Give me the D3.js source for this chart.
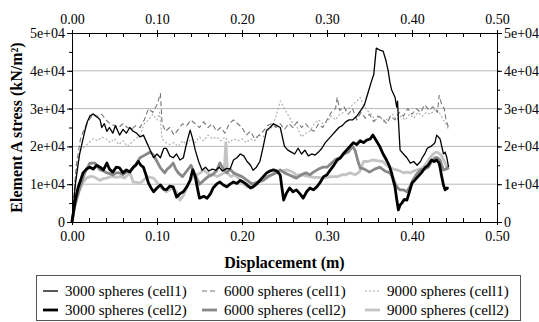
<!DOCTYPE html>
<html>
<head>
<meta charset="utf-8">
<script src="https://cdn.jsdelivr.net/npm/d3@7"></script>
<style>
  html, body { margin: 0; padding: 0; background: #fff; }
  svg { display: block; }
  svg text { font-family: "Liberation Serif", "Times New Roman", Times, serif !important; fill: #000; }
</style>
</head>
<body>
<svg id="chart" width="539" height="322"></svg>
<script>
// ---------- DATA ----------
const xTickValues = [0, 0.1, 0.2, 0.3, 0.4, 0.5];
const xTickLabels = ["0.00", "0.10", "0.20", "0.30", "0.40", "0.50"];
const yTickValues = [0, 10000, 20000, 30000, 40000, 50000];
const yTickLabels = ["0", "1e+04", "2e+04", "3e+04", "4e+04", "5e+04"];
const seriesNames = ["3000 spheres (cell1)", "6000 spheres (cell1)", "9000 spheres (cell1)",
                     "3000 spheres (cell2)", "6000 spheres (cell2)", "9000 spheres (cell2)"];

// [displacement (m), stress (kN/m2 / 1000)]
const s3000cell1 = [
  [0,0],[0.002,5],[0.004,10],[0.007,15],[0.009,18],[0.012,21],[0.015,24],[0.018,26.5],[0.021,28],[0.025,28.6],
  [0.028,28],[0.031,27.5],[0.033,27],[0.035,25],[0.038,26],[0.041,24],[0.044,25],[0.048,23.5],[0.051,25.5],[0.054,24],
  [0.056,23],[0.06,24.5],[0.064,23.5],[0.068,25],[0.072,24],[0.076,23.5],[0.08,22.5],[0.084,23],[0.088,21],[0.092,19],
  [0.096,17],[0.1,18],[0.104,17],[0.108,19.5],[0.111,19.5],[0.115,17.5],[0.119,17],[0.123,18],[0.127,16.4],[0.131,17],
  [0.135,21],[0.139,24.3],[0.142,22],[0.145,19],[0.149,16],[0.153,13.7],[0.157,14.5],[0.161,13.5],[0.165,14],[0.169,13.7],
  [0.173,14.5],[0.177,13.5],[0.182,14.2],[0.186,14],[0.19,16.4],[0.194,17],[0.198,18],[0.202,17.5],[0.206,16],[0.21,15],
  [0.213,13.7],[0.217,14.5],[0.221,16],[0.225,20],[0.229,24.3],[0.233,25],[0.237,26],[0.241,25.5],[0.245,25],[0.248,22],
  [0.25,20],[0.254,19],[0.258,18.5],[0.262,18],[0.266,19.5],[0.27,18],[0.274,19],[0.278,17.5],[0.282,18],[0.286,17.7],
  [0.29,18.5],[0.294,19.5],[0.298,21],[0.302,22],[0.306,23],[0.31,24],[0.314,25],[0.318,25.5],[0.322,26.5],[0.326,27],
  [0.33,27],[0.335,28],[0.34,29.6],[0.344,31],[0.348,34],[0.352,37],[0.355,39],[0.358,46],[0.362,45.5],[0.366,45.2],
  [0.369,43],[0.372,40],[0.374,37],[0.376,35],[0.378,34],[0.38,33],[0.382,30.4],[0.383,32],[0.384,27],[0.386,19],
  [0.39,18],[0.394,17],[0.398,15.6],[0.402,16],[0.406,15],[0.41,16],[0.412,17],[0.415,18],[0.418,19.5],[0.422,20],
  [0.425,20.5],[0.427,21],[0.429,23],[0.431,22.5],[0.433,22],[0.435,20],[0.437,18],[0.439,18.5],[0.441,17],[0.443,14.5]
];
const s6000cell1 = [
  [0,0],[0.005,15],[0.01,22],[0.015,25],[0.02,27],[0.025,28.5],[0.03,28],[0.035,28.5],[0.04,27],[0.045,26],
  [0.05,25.5],[0.055,25],[0.06,26],[0.065,25],[0.07,24.5],[0.075,25.5],[0.08,25],[0.085,27],[0.09,30],[0.095,29],
  [0.1,31],[0.104,34],[0.106,26],[0.11,24],[0.115,25],[0.12,23],[0.125,24.5],[0.13,26],[0.135,25.5],[0.14,27],
  [0.145,26],[0.15,25],[0.155,26.5],[0.16,25],[0.165,26],[0.17,24],[0.175,25],[0.18,23.5],[0.185,26],[0.19,27],
  [0.195,26],[0.2,25],[0.205,23],[0.21,24],[0.215,22],[0.22,23],[0.225,24],[0.23,25.5],[0.235,26],[0.24,25],
  [0.245,26],[0.25,24.5],[0.255,26],[0.26,25],[0.265,26.5],[0.27,25],[0.275,26],[0.28,24.5],[0.285,24],[0.29,26],
  [0.295,25],[0.3,27],[0.305,29],[0.31,30],[0.312,33],[0.315,29.5],[0.32,30.5],[0.325,28.5],[0.33,30],[0.335,27],
  [0.34,29],[0.345,27.5],[0.35,28.5],[0.355,26.5],[0.36,28],[0.365,27.5],[0.37,26],[0.375,28],[0.38,27],[0.385,29],
  [0.39,28],[0.395,30],[0.4,28.5],[0.405,30],[0.41,29],[0.415,31],[0.42,29.5],[0.425,30.5],[0.43,29],[0.432,33.5],
  [0.435,31],[0.438,30],[0.44,27],[0.443,25]
];
const s9000cell1 = [
  [0,0],[0.003,10],[0.006,15],[0.01,19],[0.015,20],[0.02,21],[0.025,22],[0.03,21.5],[0.035,22.5],[0.04,22],
  [0.045,21],[0.05,22],[0.055,20.5],[0.06,21.5],[0.065,20],[0.07,21],[0.075,22],[0.08,23],[0.085,26],[0.09,27],
  [0.095,28.5],[0.1,27],[0.103,29],[0.106,22],[0.11,21],[0.115,20.5],[0.12,21],[0.125,20],[0.13,21.5],[0.135,20.5],
  [0.14,22],[0.145,21],[0.15,22.5],[0.155,21.5],[0.16,23],[0.165,22],[0.17,22.5],[0.175,21.5],[0.18,22.5],[0.185,21],
  [0.19,22],[0.195,21.5],[0.2,22],[0.205,21],[0.21,22],[0.215,21.5],[0.22,23],[0.225,22.5],[0.23,24],[0.235,25],
  [0.24,28],[0.245,32],[0.25,30],[0.255,28],[0.26,26],[0.265,25],[0.27,22.5],[0.275,23.5],[0.28,24],[0.285,26],
  [0.29,27],[0.295,26],[0.3,26.5],[0.305,28],[0.31,27],[0.315,28.5],[0.32,29],[0.325,30],[0.33,31],[0.335,32],
  [0.339,33],[0.343,31],[0.347,29.6],[0.352,28.5],[0.357,27],[0.362,28],[0.367,26.5],[0.372,27.5],[0.377,28.5],[0.382,27],
  [0.387,28],[0.392,27],[0.397,28.5],[0.402,27.5],[0.407,29],[0.412,28],[0.417,29],[0.422,28.5],[0.427,30],[0.432,29],
  [0.437,27],[0.44,26],[0.443,24.5]
];
const s3000cell2 = [
  [0,0],[0.002,3],[0.004,5.8],[0.007,9],[0.01,11],[0.013,13],[0.017,14],[0.021,14.5],[0.025,14],[0.029,15],
  [0.033,14.5],[0.037,13.8],[0.041,15.6],[0.044,14],[0.048,13.2],[0.052,14.5],[0.056,14.3],[0.06,13],[0.064,13.8],[0.068,13.2],
  [0.072,14.5],[0.075,15],[0.078,16],[0.081,15],[0.084,14.5],[0.087,12.5],[0.09,10.3],[0.093,9],[0.096,8],[0.1,9],
  [0.104,9.8],[0.108,8.7],[0.111,8.5],[0.115,9.5],[0.119,9.3],[0.123,6.6],[0.127,7.5],[0.131,8],[0.135,9.3],[0.139,11],
  [0.142,13.8],[0.145,12],[0.148,8.5],[0.15,6.3],[0.155,6.8],[0.159,6.3],[0.163,7.5],[0.166,9],[0.17,10],[0.174,10.6],
  [0.178,9.8],[0.182,9.3],[0.186,10],[0.19,10.6],[0.194,10.2],[0.198,11],[0.202,10.5],[0.206,9.8],[0.21,9],[0.213,9.3],
  [0.217,10],[0.221,11],[0.225,12],[0.229,13],[0.233,13.5],[0.237,13.8],[0.241,13.5],[0.245,12.4],[0.247,9],[0.249,5.8],
  [0.252,7.5],[0.256,9],[0.26,8],[0.264,8.5],[0.268,7.5],[0.272,6.3],[0.276,8],[0.28,9],[0.284,8.5],[0.288,9.3],
  [0.292,10.5],[0.296,12],[0.3,12.5],[0.304,13.8],[0.308,15],[0.312,16.4],[0.316,17],[0.319,18],[0.323,19],[0.327,20],
  [0.331,21],[0.335,20.5],[0.339,21.5],[0.343,21],[0.347,21.7],[0.351,22],[0.354,23],[0.358,21.5],[0.362,20],[0.366,18],
  [0.37,16.4],[0.373,15],[0.376,13],[0.378,11],[0.38,9.3],[0.382,6],[0.384,3.2],[0.386,4.5],[0.388,5],[0.391,6],
  [0.394,5.8],[0.397,8],[0.4,10.3],[0.403,11],[0.407,12],[0.411,13],[0.415,14.3],[0.419,15],[0.423,16.4],[0.426,16],
  [0.429,16.4],[0.432,15.5],[0.433,14.5],[0.435,12],[0.437,9.8],[0.439,8.5],[0.441,9],[0.443,8.8]
];
const s6000cell2 = [
  [0,0],[0.002,3],[0.004,5],[0.009,9],[0.015,13],[0.021,15.6],[0.027,15.6],[0.033,13.8],[0.037,13.5],[0.041,13],
  [0.045,12.8],[0.048,12.4],[0.052,13],[0.056,13],[0.06,12.5],[0.064,13.2],[0.068,13.5],[0.072,14.3],[0.076,15.5],[0.08,17],
  [0.084,17.5],[0.088,18],[0.092,18.5],[0.096,17.7],[0.1,16],[0.104,14.3],[0.109,13],[0.112,14],[0.115,14.5],[0.119,15.6],
  [0.122,14],[0.125,13],[0.13,12],[0.135,13.5],[0.14,15],[0.145,12.5],[0.15,10],[0.155,11],[0.16,12],[0.165,12.5],
  [0.17,13.5],[0.174,15.6],[0.178,14],[0.182,13],[0.186,14],[0.19,13],[0.195,12.5],[0.2,12],[0.206,11],[0.212,10],
  [0.218,10.5],[0.225,11],[0.23,12],[0.235,12.5],[0.24,13],[0.245,13.8],[0.25,13],[0.255,12.5],[0.26,12],[0.264,11.6],
  [0.27,12.5],[0.275,13],[0.28,12.5],[0.284,13.2],[0.29,14],[0.295,14.5],[0.3,14.5],[0.305,15.5],[0.31,16.5],[0.315,17],
  [0.32,18],[0.325,18.5],[0.33,20],[0.333,19],[0.336,16.4],[0.339,14.3],[0.344,14],[0.35,13.2],[0.356,14],[0.362,14.5],
  [0.368,13.5],[0.374,13],[0.378,11.5],[0.38,10.3],[0.383,9],[0.386,8.5],[0.39,8.5],[0.394,8],[0.398,9.5],[0.401,11],
  [0.405,12.5],[0.41,13.8],[0.415,14],[0.419,14.5],[0.423,16],[0.427,17],[0.43,17],[0.433,16.4],[0.435,15],[0.437,13.8],
  [0.44,14],[0.443,14.5]
];
const s9000cell2 = [
  [0,0],[0.003,4],[0.009,8.5],[0.013,10.5],[0.017,11.6],[0.021,12],[0.025,12],[0.029,11.5],[0.033,11],[0.037,11.5],
  [0.041,11.6],[0.045,12],[0.048,12],[0.052,11.8],[0.056,12],[0.06,11.8],[0.062,11.6],[0.068,13],[0.072,10.6],[0.076,10.5],
  [0.08,10.3],[0.084,11],[0.088,12],[0.092,11.8],[0.096,11.6],[0.1,10.5],[0.104,9.3],[0.108,8.5],[0.111,8],[0.115,8.5],
  [0.119,9],[0.123,8],[0.127,5.8],[0.131,7],[0.135,9],[0.139,11],[0.143,12],[0.147,12.5],[0.151,13],[0.155,13.8],
  [0.159,13],[0.163,12.5],[0.167,12.5],[0.171,12],[0.175,12.5],[0.179,13],[0.181,21],[0.183,13],[0.187,12],[0.191,12.5],
  [0.194,12],[0.198,11],[0.202,10],[0.206,9.3],[0.21,10],[0.214,10.2],[0.218,10.6],[0.222,11],[0.226,11.3],[0.229,11.6],
  [0.233,12.2],[0.237,12.8],[0.241,13.2],[0.245,13.5],[0.249,13.6],[0.253,13.8],[0.257,13.5],[0.261,13],[0.264,12.4],[0.27,12.5],
  [0.275,12.2],[0.28,12],[0.285,11.8],[0.29,11.8],[0.296,11.6],[0.3,11.8],[0.305,12],[0.312,12],[0.318,12.5],[0.322,12.5],
  [0.327,13],[0.333,12.5],[0.338,13.2],[0.343,16],[0.348,16],[0.354,16.4],[0.36,16.2],[0.366,16],[0.37,15],[0.374,14.5],
  [0.378,14],[0.382,13.8],[0.386,13.5],[0.39,13],[0.394,13.2],[0.398,13],[0.402,13.5],[0.406,13.8],[0.41,14],[0.413,14.5],
  [0.417,15.5],[0.421,17],[0.425,18],[0.429,18.5],[0.433,18],[0.436,17],[0.439,15.6],[0.441,14.5],[0.443,13.8]
];

// ---------- STYLE ----------
const FONT = "'Liberation Serif', 'Times New Roman', Times, serif";
const seriesStyles = [
  { data: s3000cell1, color: "#000000", width: 1.3, dash: null },
  { data: s6000cell1, color: "#777777", width: 1.1, dash: "5,3" },
  { data: s9000cell1, color: "#aaaaaa", width: 1.1, dash: "2,2" },
  { data: s3000cell2, color: "#000000", width: 2.8, dash: null },
  { data: s6000cell2, color: "#888888", width: 2.8, dash: null },
  { data: s9000cell2, color: "#c4c4c4", width: 2.8, dash: null }
];
const drawOrder = [5, 4, 2, 1, 3, 0];

const svg = d3.select("#chart");
const L = 72, R = 497, T = 33, B = 222;
const x = d3.scaleLinear().domain([0, 0.5]).range([L, R]);
const y = d3.scaleLinear().domain([0, 50000]).range([B, T]);

// grid
svg.append("g").selectAll("line")
  .data(yTickValues.filter(v => v > 0 && v < 50000))
  .join("line")
  .attr("x1", L).attr("x2", R)
  .attr("y1", d => y(d)).attr("y2", d => y(d))
  .attr("stroke", "#b8b8b8").attr("stroke-width", 1);

// lines
const line = d3.line().x(d => x(d[0])).y(d => y(d[1] * 1000));
const gLines = svg.append("g");
drawOrder.forEach(i => {
  const s = seriesStyles[i];
  gLines.append("path")
    .datum(s.data)
    .attr("fill", "none")
    .attr("stroke", s.color)
    .attr("stroke-width", s.width)
    .attr("stroke-linejoin", "round")
    .attr("stroke-dasharray", s.dash)
    .attr("d", line);
});

// axes
const xMinor = d3.range(0, 0.5001, 0.02);
const yMinor = d3.range(0, 50001, 5000);

function styleAxis(g) {
  g.attr("font-family", FONT).attr("font-size", 14);
  g.selectAll(".domain").attr("stroke", "#000").attr("stroke-width", 1);
  g.selectAll(".tick line").attr("stroke", "#000");
  g.selectAll("text").style("font-family", FONT).attr("font-size", 14).attr("fill", "#000");
}

const bottomAxis = d3.axisBottom(x).tickValues(xTickValues).tickFormat((d, i) => xTickLabels[i])
  .tickSizeInner(3).tickSizeOuter(0).tickPadding(6);
svg.append("g").attr("transform", `translate(0,${B})`).call(bottomAxis).call(styleAxis);
svg.append("g").attr("transform", `translate(0,${B})`)
  .call(d3.axisBottom(x).tickValues(xMinor).tickFormat("").tickSizeInner(-4).tickSizeOuter(0))
  .call(g => g.select(".domain").remove()).call(styleAxis);

const topAxis = d3.axisTop(x).tickValues(xTickValues).tickFormat((d, i) => xTickLabels[i])
  .tickSizeInner(3).tickSizeOuter(0).tickPadding(6);
svg.append("g").attr("transform", `translate(0,${T})`).call(topAxis).call(styleAxis);
svg.append("g").attr("transform", `translate(0,${T})`)
  .call(d3.axisTop(x).tickValues(xMinor).tickFormat("").tickSizeInner(-4).tickSizeOuter(0))
  .call(g => g.select(".domain").remove()).call(styleAxis);

const leftAxis = d3.axisLeft(y).tickValues(yTickValues).tickFormat((d, i) => yTickLabels[i])
  .tickSizeInner(5).tickSizeOuter(0).tickPadding(2);
svg.append("g").attr("transform", `translate(${L},0)`).call(leftAxis).call(styleAxis);
svg.append("g").attr("transform", `translate(${L},0)`)
  .call(d3.axisLeft(y).tickValues(yMinor).tickFormat("").tickSizeInner(3).tickSizeOuter(0))
  .call(g => g.select(".domain").remove()).call(styleAxis);

const rightAxis = d3.axisRight(y).tickValues(yTickValues).tickFormat((d, i) => yTickLabels[i])
  .tickSizeInner(5).tickSizeOuter(0).tickPadding(2);
svg.append("g").attr("transform", `translate(${R},0)`).call(rightAxis).call(styleAxis);
svg.append("g").attr("transform", `translate(${R},0)`)
  .call(d3.axisRight(y).tickValues(yMinor).tickFormat("").tickSizeInner(3).tickSizeOuter(0))
  .call(g => g.select(".domain").remove()).call(styleAxis);

// titles
svg.append("text")
  .attr("x", (L + R) / 2).attr("y", 268)
  .attr("text-anchor", "middle")
  .style("font-family", FONT)
  .attr("font-size", 16).attr("font-weight", "bold")
  .text("Displacement (m)");
svg.append("text")
  .attr("transform", `translate(22,${(T + B) / 2}) rotate(-90)`)
  .attr("text-anchor", "middle")
  .style("font-family", FONT)
  .attr("font-size", 16).attr("font-weight", "bold")
  .text("Element A stress (kN/m²)");

// legend
const legend = svg.append("g");
legend.append("rect")
  .attr("x", 36.5).attr("y", 275.5).attr("width", 484).attr("height", 45)
  .attr("fill", "#fff").attr("stroke", "#555").attr("stroke-width", 1);
const colX = [43, 202, 365];
const rowY = [291, 310];
seriesStyles.forEach((s, i) => {
  const cx = colX[i % 3], cy = rowY[Math.floor(i / 3)];
  legend.append("line")
    .attr("x1", cx).attr("x2", cx + 15).attr("y1", cy).attr("y2", cy)
    .attr("stroke", s.color).attr("stroke-width", s.width)
    .attr("stroke-dasharray", s.dash);
  legend.append("text")
    .attr("x", cx + 22).attr("y", cy + 5)
    .style("font-family", FONT)
    .attr("font-size", 15)
    .text(seriesNames[i]);
});
</script>
</body>
</html>
